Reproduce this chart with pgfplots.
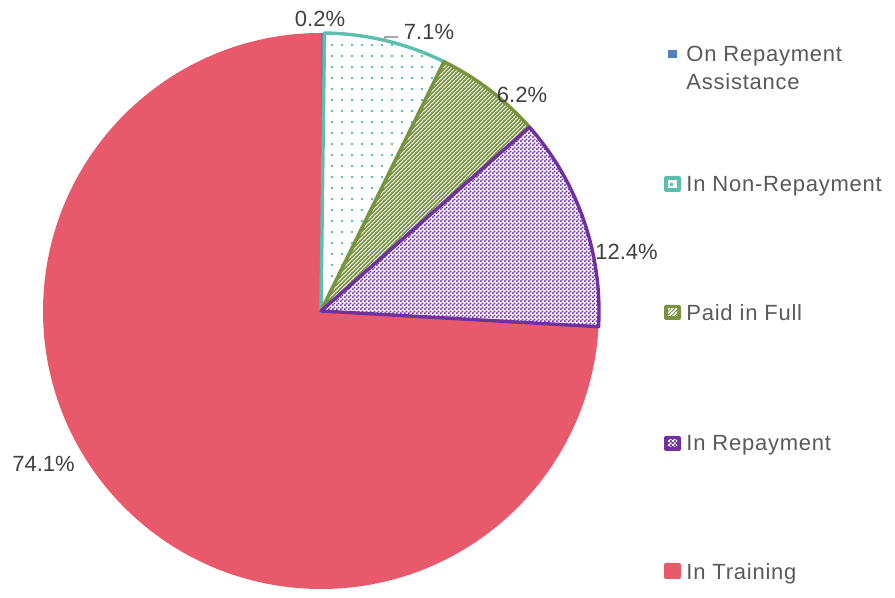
\documentclass[border=0pt]{standalone}
\usepackage{pgfplots}
\pgfplotsset{compat=1.18}
\usepackage{fontspec}
\setmainfont{Liberation Sans}
\usetikzlibrary{patterns}
\definecolor{cTrain}{RGB}{233,89,108}
\definecolor{cNon}{RGB}{91,191,175}
\definecolor{cPaid}{RGB}{119,147,60}
\definecolor{cRep}{RGB}{112,48,160}
\definecolor{cAss}{RGB}{79,129,189}
\definecolor{cLab}{RGB}{64,64,64}
\definecolor{cLeg}{RGB}{89,89,89}
\pgfdeclarepatternformonly{sparsedots}{\pgfqpoint{-1pt}{-1pt}}{\pgfqpoint{6pt}{6pt}}{\pgfqpoint{5pt}{5.5pt}}{%
  \pgfpathrectangle{\pgfqpoint{0.4pt}{0.4pt}}{\pgfqpoint{1.1pt}{1.1pt}}\pgfusepath{fill}}
\pgfdeclarepatternformonly{hatch}{\pgfqpoint{-1pt}{-1pt}}{\pgfqpoint{3pt}{3pt}}{\pgfqpoint{2pt}{2pt}}{%
  \pgfsetlinewidth{0.75pt}\pgfpathmoveto{\pgfqpoint{-0.2pt}{-0.2pt}}\pgfpathlineto{\pgfqpoint{2.2pt}{2.2pt}}\pgfusepath{stroke}}
\pgfdeclarepatternformonly{checker}{\pgfpointorigin}{\pgfqpoint{2pt}{2pt}}{\pgfqpoint{2pt}{2pt}}{%
  \pgfpathrectangle{\pgfpointorigin}{\pgfqpoint{1.05pt}{1.05pt}}\pgfpathrectangle{\pgfqpoint{1pt}{1pt}}{\pgfqpoint{1.05pt}{1.05pt}}\pgfusepath{fill}}
\begin{document}
\begin{tikzpicture}
\begin{axis}[x=0.5pt,y=0.5pt,xmin=0,xmax=895,ymin=0,ymax=588,hide axis,clip=false,scale only axis]
\path (axis cs:0,0) rectangle (axis cs:895,588);
% values (percent): On Repayment Assistance 0.2, In Non-Repayment 7.1, Paid in Full 6.2, In Repayment 12.4, In Training 74.1
% angles: start 90, clockwise, 3.6 deg per percent
% In Training 74.1 : -3.24 -> -270
\fill[cTrain] (axis cs:321,277) -- ++(-3.24:139pt) arc[start angle=-3.24,end angle=-270,radius=139pt] -- cycle;
% On Repayment Assistance 0.2 : 90 -> 89.28
\fill[cAss] (axis cs:321,277) -- ++(90:139pt) arc[start angle=90,end angle=89.28,radius=139pt] -- cycle;
% In Non-Repayment 7.1 : 89.28 -> 63.72
\fill[white] (axis cs:321,277) -- ++(89.28:139pt) arc[start angle=89.28,end angle=63.72,radius=139pt] -- cycle;
\fill[pattern=sparsedots,pattern color=cNon] (axis cs:321,277) -- ++(89.28:139pt) arc[start angle=89.28,end angle=63.72,radius=139pt] -- cycle;
\draw[cNon,line width=1.7pt,line join=round] (axis cs:321,277) -- ++(89.28:139pt) arc[start angle=89.28,end angle=63.72,radius=139pt] -- cycle;
% Paid in Full 6.2 : 63.72 -> 41.40
\fill[pattern=hatch,pattern color=cPaid] (axis cs:321,277) -- ++(63.72:139pt) arc[start angle=63.72,end angle=41.40,radius=139pt] -- cycle;
\draw[cPaid,line width=1.7pt,line join=round] (axis cs:321,277) -- ++(63.72:139pt) arc[start angle=63.72,end angle=41.40,radius=139pt] -- cycle;
% In Repayment 12.4 : 41.40 -> -3.24
\fill[pattern=checker,pattern color=cRep] (axis cs:321,277) -- ++(41.40:139pt) arc[start angle=41.40,end angle=-3.24,radius=139pt] -- cycle;
\draw[cRep,line width=1.7pt,line join=round] (axis cs:321,277) -- ++(41.40:139pt) arc[start angle=41.40,end angle=-3.24,radius=139pt] -- cycle;
% data labels
\begin{scope}[every node/.style={font=\fontsize{11}{13}\selectfont,text=cLab,inner sep=0pt,anchor=base}]
\node at (axis cs:320,561) {0.2\%};
\node at (axis cs:429,548) {7.1\%};
\node at (axis cs:522,485) {6.2\%};
\node at (axis cs:626.5,328) {12.4\%};
\node at (axis cs:43.5,116) {74.1\%};
\end{scope}
\draw[color={rgb,255:red,166;green,166;blue,166},line width=0.7pt] (axis cs:398,551) -- (axis cs:385,551) -- (axis cs:385,546);
% legend
\fill[cAss] (axis cs:668,530) rectangle (axis cs:677,538);
\fill[cNon,rounded corners=1pt] (axis cs:664,396) rectangle (axis cs:681,412);
\fill[white] (axis cs:668,400) rectangle (axis cs:677,408);
\fill[cNon] (axis cs:670,402) rectangle (axis cs:673,405);
\fill[cPaid,rounded corners=1pt] (axis cs:664,268) rectangle (axis cs:681,283);
\fill[pattern=hatch,pattern color=white] (axis cs:668,272) rectangle (axis cs:677,279);
\fill[cRep,rounded corners=1pt] (axis cs:664,137) rectangle (axis cs:681,152);
\fill[pattern=checker,pattern color=white] (axis cs:668,141) rectangle (axis cs:677,148);
\fill[cTrain,rounded corners=1pt] (axis cs:664,9) rectangle (axis cs:681,25);
\begin{scope}[every node/.style={font=\fontsize{11}{13}\selectfont\addfontfeatures{LetterSpace=3.5},text=cLeg,inner sep=0pt,anchor=base west}]
\node at (axis cs:686,526) {On Repayment};
\node at (axis cs:686,498) {Assistance};
\node at (axis cs:686,396) {In Non-Repayment};
\node at (axis cs:686,267) {Paid in Full};
\node at (axis cs:686,137) {In Repayment};
\node at (axis cs:686,8) {In Training};
\end{scope}
\end{axis}
\end{tikzpicture}
\end{document}
